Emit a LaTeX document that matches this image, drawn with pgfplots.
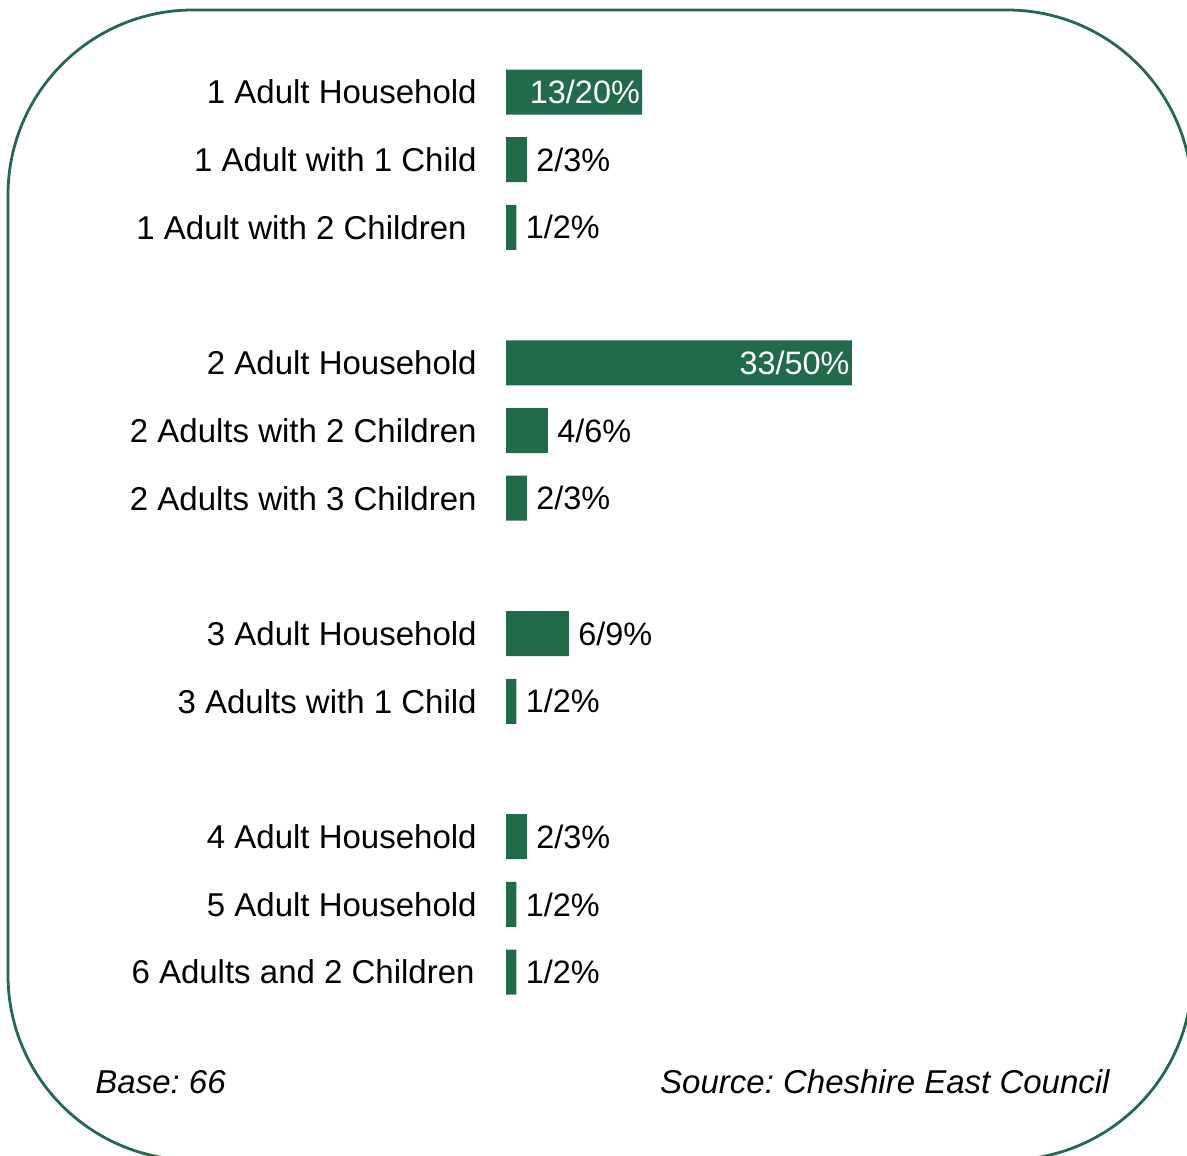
\documentclass[border=0pt]{standalone}
\usepackage{fontspec}
\setmainfont{Liberation Sans}
\usepackage{pgfplots}
\pgfplotsset{compat=1.18}
\definecolor{bargreen}{HTML}{226B4A}
\definecolor{framegreen}{HTML}{236B48}
\frenchspacing
\begin{document}
\begin{tikzpicture}
\useasboundingbox (0pt,0pt) rectangle (593.5pt,-577.5pt);
\begin{scope}
\clip (0pt,0pt) rectangle (593.5pt,-577.5pt);
\draw[framegreen, line width=1.4pt, rounded corners=92.5pt] (4pt,-5pt) rectangle (596pt,-580pt);
\end{scope}
\begin{axis}[
  at={(253pt,-29.075pt)}, anchor=north west,
  scale only axis, width=209.6pt, height=473.9pt,
  xmin=0, xmax=40, ymin=-0.5, ymax=13.5, y dir=reverse,
  xbar, bar shift=0pt, bar width=22.5pt,
  axis line style={draw=none}, major tick length=0pt,
  xtick=\empty,
  ytick={0,1,2,4,5,6,8,9,11,12,13},
  yticklabels={1 Adult Household, 1 Adult with 1 Child, 1 Adult with 2 Children\hspace*{5pt}, 2 Adult Household, 2 Adults with 2 Children, 2 Adults with 3 Children, 3 Adult Household, 3 Adults with 1 Child, 4 Adult Household, 5 Adult Household, 6 Adults and 2 Children\hspace*{1pt}},
  yticklabel style={font=\fontsize{16.5}{19}\selectfont, anchor=east, inner sep=0pt, xshift=-14.5pt},
  point meta=explicit symbolic,
  nodes near coords,
  clip=false,
]
\addplot[fill=bargreen, draw=none,
  every node near coord/.append style={anchor=east, text=white, inner sep=1pt, font=\fontsize{16.2}{19}\selectfont}]
  coordinates {(13,0) [13/20\%] (33,4) [33/50\%]};
\addplot[fill=bargreen, draw=none,
  every node near coord/.append style={anchor=west, text=black, inner sep=0pt, xshift=4.5pt, font=\fontsize{16.2}{19}\selectfont}]
  coordinates {(2,1) [2/3\%] (1,2) [1/2\%] (4,5) [4/6\%] (2,6) [2/3\%] (6,8) [6/9\%] (1,9) [1/2\%] (2,11) [2/3\%] (1,12) [1/2\%] (1,13) [1/2\%]};
\end{axis}
\node[anchor=base west, inner sep=0pt, font=\fontsize{16.5}{19}\selectfont\itshape] at (47.5pt,-546.5pt) {Base: 66};
\node[anchor=base east, inner sep=0pt, font=\fontsize{16.5}{19}\selectfont\itshape] at (555pt,-546.5pt) {Source: Cheshire East Council};
\end{tikzpicture}
\end{document}
